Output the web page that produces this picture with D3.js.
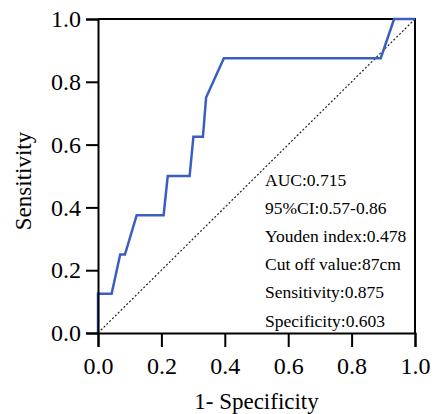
<!DOCTYPE html>
<html><head><meta charset="utf-8">
<script src="https://cdn.jsdelivr.net/npm/d3@7"></script>
<style>body{margin:0;background:#fff}svg{display:block}
text{font-family:'Liberation Serif','Times New Roman',serif !important;fill:#000}</style>
</head><body>
<svg id="c" width="437" height="414"></svg>
<script>
const fpr = [0, 0, 0.043, 0.07, 0.085, 0.122, 0.207, 0.22, 0.289, 0.301, 0.331, 0.341, 0.397, 0.892, 0.934, 1.0];
const sens = [0, 0.125, 0.125, 0.25, 0.25, 0.375, 0.375, 0.5, 0.5, 0.625, 0.625, 0.75, 0.875, 0.875, 1, 1];
const ticks = [0, 0.2, 0.4, 0.6, 0.8, 1.0];
const annotations = ["AUC:0.715", "95%CI:0.57-0.86", "Youden index:0.478", "Cut off value:87cm", "Sensitivity:0.875", "Specificity:0.603"];

const svg = d3.select("#c");
const x = d3.scaleLinear().domain([0,1]).range([98,415]);
const y = d3.scaleLinear().domain([0,1]).range([333,19]);

svg.append("path").attr("d", `M${x(0)},${y(1)}H${x(1)}V${y(0)}`)
  .attr("fill","none").attr("stroke","#000").attr("stroke-width",2);

svg.append("line").attr("x1",x(0)).attr("y1",y(0)).attr("x2",x(1)).attr("y2",y(1))
  .attr("stroke","#222").attr("stroke-width",1.2).attr("stroke-dasharray","2,2");

const pts = fpr.map((f,i)=>[f,sens[i]]);
svg.append("path").datum(pts)
  .attr("d", d3.line().x(d=>x(d[0])).y(d=>y(d[1])))
  .attr("fill","none").attr("stroke","#3b5fc0").attr("stroke-width",2.5);

const fmt = d3.format(".1f");
const xa = svg.append("g").attr("transform",`translate(0,${y(0)})`)
  .call(d3.axisBottom(x).tickValues(ticks).tickFormat(fmt).tickSize(14).tickPadding(10));
const ya = svg.append("g").attr("transform",`translate(${x(0)},0)`)
  .call(d3.axisLeft(y).tickValues(ticks).tickFormat(fmt).tickSize(12).tickPadding(5));
[xa,ya].forEach(a=>{
  a.attr("font-size",null).attr("font-family",null);
  a.select(".domain").attr("stroke","#000").attr("stroke-width",2);
  a.selectAll(".tick line").attr("stroke","#000").attr("stroke-width",2);
  a.selectAll("text").style("font-size","24px").attr("fill","#000");
});

svg.append("text").attr("x",(x(0)+x(1))/2).attr("y",409).attr("text-anchor","middle")
  .style("font-size","23px").text("1- Specificity");
svg.append("text").attr("transform",`translate(31,181) rotate(-90)`).attr("text-anchor","middle")
  .style("font-size","23px").text("Sensitivity");

svg.append("g").selectAll("text").data(annotations).join("text")
  .attr("x",265).attr("y",(d,i)=>186+i*28.1)
  .style("font-size","17.5px").text(d=>d);
</script>
</body></html>
